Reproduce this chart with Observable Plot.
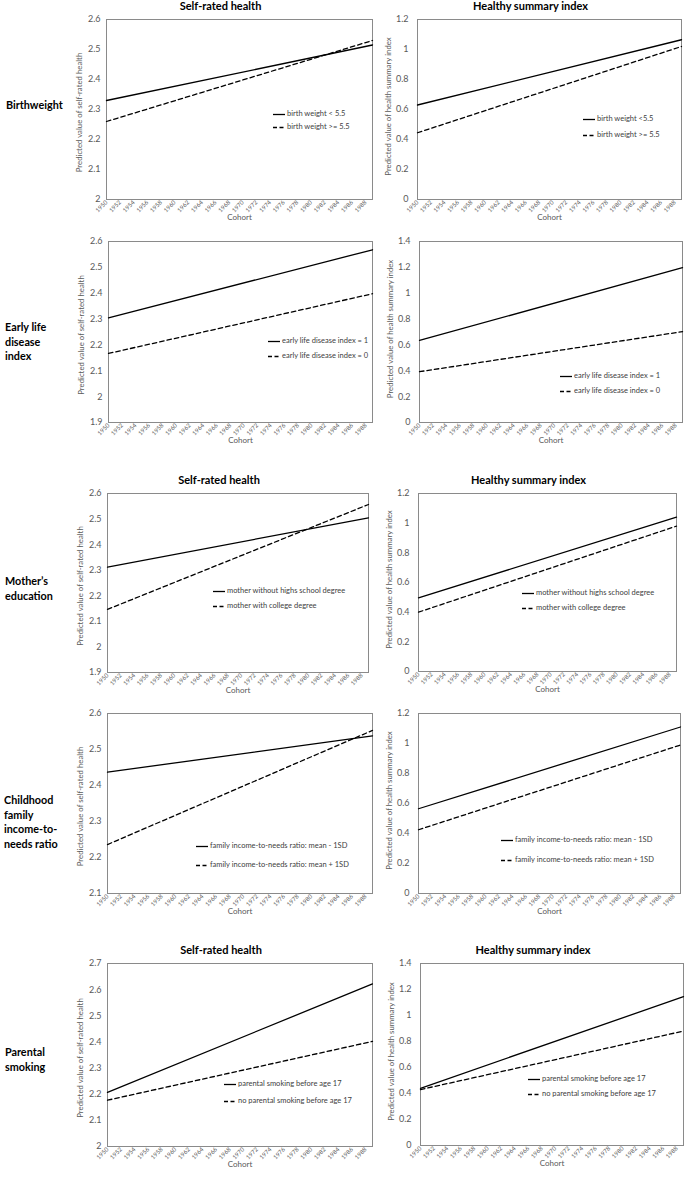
<!DOCTYPE html>
<html><head><meta charset="utf-8">
<script src="https://cdn.jsdelivr.net/npm/d3@7"></script>
<script src="https://cdn.jsdelivr.net/npm/@observablehq/plot@0.6"></script>
<style>
body{margin:0;background:#fff;}
#root{position:relative;width:685px;height:1180px;overflow:hidden;font-family:Lato,sans-serif;}
.plot{position:absolute;}
.rowlab{position:absolute;font-weight:bold;font-size:10.8px;line-height:14.5px;color:#000;font-family:Lato,sans-serif;}
.leg{position:absolute;font-size:7.5px;color:#404040;white-space:nowrap;font-family:Lato,sans-serif;line-height:10px;}
.leg svg{position:absolute;left:0;top:4px;}
.leg span{position:absolute;left:14px;top:0;}
</style></head><body><div id="root"></div>
<script>
// ---- data ----
const cohortEnds = [1950, 1989];
const xTicks = [1950,1952,1954,1956,1958,1960,1962,1964,1966,1968,1970,1972,1974,1976,1978,1980,1982,1984,1986,1988];

const rowLabels = ["Birthweight", "Early life\ndisease\nindex", "Mother’s\neducation", "Childhood\nfamily\nincome-to-\nneeds ratio", "Parental\nsmoking"];
const colTitles = ["Self-rated health", "Healthy summary index"];
const yLabels = ["Predicted value of self-rated health", "Predicted value of health summary index"];

// self-rated health panels
const bwSrhLow = [2.33, 2.515], bwSrhHigh = [2.26, 2.53];
const eldSrh1 = [2.305, 2.568], eldSrh0 = [2.167, 2.398];
const meSrhNoHs = [2.312, 2.505], meSrhCollege = [2.147, 2.557];
const incSrhLow = [2.437, 2.538], incSrhHigh = [2.236, 2.553];
const smkSrhYes = [2.207, 2.622], smkSrhNo = [2.177, 2.402];
// healthy summary index panels
const bwHsiLow = [0.63, 1.065], bwHsiHigh = [0.445, 1.02];
const eldHsi1 = [0.635, 1.197], eldHsi0 = [0.393, 0.703];
const meHsiNoHs = [0.497, 1.04], meHsiCollege = [0.40, 0.98];
const incHsiLow = [0.565, 1.11], incHsiHigh = [0.425, 0.99];
const smkHsiYes = [0.44, 1.145], smkHsiNo = [0.43, 0.88];

// y tick labels
const ticksSrhA = [2, 2.1, 2.2, 2.3, 2.4, 2.5, 2.6];
const ticksSrhB = [1.9, 2, 2.1, 2.2, 2.3, 2.4, 2.5, 2.6];
const ticksSrhC = [2.1, 2.2, 2.3, 2.4, 2.5, 2.6];
const ticksSrhD = [2, 2.1, 2.2, 2.3, 2.4, 2.5, 2.6, 2.7];
const ticksHsiA = [0, 0.2, 0.4, 0.6, 0.8, 1, 1.2];
const ticksHsiB = [0, 0.2, 0.4, 0.6, 0.8, 1, 1.2, 1.4];

// legend labels
const legBwSrh = ["birth weight < 5.5", "birth weight >= 5.5"];
const legBwHsi = ["birth weight <5.5", "birth weight >= 5.5"];
const legEld = ["early life disease index = 1", "early life disease index = 0"];
const legMe = ["mother without highs school degree", "mother with college degree"];
const legInc = ["family income-to-needs ratio: mean - 1SD", "family income-to-needs ratio: mean + 1SD"];
const legSmk = ["parental smoking before age 17", "no parental smoking before age 17"];

// ---- layout (positions only) ----
const panels = [
  {row:0,col:0,f:[106,372,19,199], yd:[2,2.6], yt:ticksSrhA, s:[bwSrhLow,bwSrhHigh], leg:legBwSrh, lp:[273,114,127]},
  {row:0,col:1,f:[417,681,19,199], yd:[0,1.2], yt:ticksHsiA, s:[bwHsiLow,bwHsiHigh], leg:legBwHsi, lp:[583,119,135]},
  {row:1,col:0,f:[108,372,241,422], yd:[1.9,2.6], yt:ticksSrhB, s:[eldSrh1,eldSrh0], leg:legEld, lp:[268,341,356]},
  {row:1,col:1,f:[419,682,241,422], yd:[0,1.4], yt:ticksHsiB, s:[eldHsi1,eldHsi0], leg:legEld, lp:[560,376,391]},
  {row:2,col:0,f:[107,368,493,672], yd:[1.9,2.6], yt:ticksSrhB, s:[meSrhNoHs,meSrhCollege], leg:legMe, lp:[213,591,606]},
  {row:2,col:1,f:[418,676,493,671], yd:[0,1.2], yt:ticksHsiA, s:[meHsiNoHs,meHsiCollege], leg:legMe, lp:[522,593,608]},
  {row:3,col:0,f:[107,372,713,893], yd:[2.1,2.6], yt:ticksSrhC, s:[incSrhLow,incSrhHigh], leg:legInc, lp:[196,846,865]},
  {row:3,col:1,f:[418,680,713,893], yd:[0,1.2], yt:ticksHsiA, s:[incHsiLow,incHsiHigh], leg:legInc, lp:[501,840,860]},
  {row:4,col:0,f:[107,372,963,1146], yd:[2,2.7], yt:ticksSrhD, s:[smkSrhYes,smkSrhNo], leg:legSmk, lp:[224,1084,1101]},
  {row:4,col:1,f:[420,683,963,1145], yd:[0,1.4], yt:ticksHsiB, s:[smkHsiYes,smkHsiNo], leg:legSmk, lp:[528,1079,1094]}
];
const titledRows = [0, 2, 4];
const rowLabPos = [[6,98],[5,320],[5,574],[4,793],[5,1045]];

const root = document.getElementById("root");
const fmt = d => String(+(+d).toFixed(1));

for (const p of panels) {
  const [x0,x1,y0,y1] = p.f;
  const hasTitle = titledRows.includes(p.row);
  const mL = 46, mR = 4, mT = hasTitle ? 20 : 4, mB = 28;
  const solid = cohortEnds.map((c,i)=>({cohort:c, v:p.s[0][i]}));
  const dashed = cohortEnds.map((c,i)=>({cohort:c, v:p.s[1][i]}));
  const marks = [
    Plot.frame({stroke:"#8a8a8a", strokeWidth:1}),
    Plot.axisY({ticks:p.yt, tickSize:0, tickPadding:p.col===0?6:9, tickFormat:fmt, fontSize:9, fill:"#595959", label:null}),
    Plot.axisX({ticks:xTicks, tickSize:0, tickRotate:-45, tickPadding:2, tickFormat:d=>String(d), fontSize:6, fill:"#595959", label:null}),
    Plot.line(solid, {x:"cohort", y:"v", stroke:"#000", strokeWidth:1.3}),
    Plot.line(dashed, {x:"cohort", y:"v", stroke:"#000", strokeWidth:1.3, strokeDasharray:"4.5,3"}),
    Plot.text([yLabels[p.col]], {text:d=>d, frameAnchor:"left", rotate:-90, dx:p.col===0?-27:-29, dy:p.col===0?3:-3, textAnchor:"middle", lineAnchor:"middle", fontSize:7.8, fill:"#595959"}),
    Plot.text(["Cohort"], {text:d=>d, frameAnchor:"bottom", dy:18, textAnchor:"middle", lineAnchor:"middle", fontSize:8, fill:"#595959"})
  ];
  if (hasTitle) marks.push(Plot.text([colTitles[p.col]], {text:d=>d, frameAnchor:"top", dx:-19, dy:-13, textAnchor:"middle", lineAnchor:"middle", fontSize:11, fontWeight:"bold", fill:"#000"}));
  const svg = Plot.plot({
    width: x1-x0+mL+mR, height: y1-y0+mT+mB,
    marginLeft:mL, marginRight:mR, marginTop:mT, marginBottom:mB,
    style:{fontFamily:"Lato, sans-serif", background:"transparent", overflow:"visible"},
    x:{domain:[1950,1989]}, y:{domain:p.yd},
    marks
  });
  svg.classList.add("plot");
  svg.style.left = (x0-mL)+"px";
  svg.style.top = (y0-mT)+"px";
  root.appendChild(svg);
}

// row labels
rowLabels.forEach((t,i)=>{
  const d = document.createElement("div");
  d.className = "rowlab";
  d.style.left = rowLabPos[i][0]+"px";
  d.style.top = rowLabPos[i][1]+"px";
  d.innerHTML = t.split("\n").join("<br>");
  root.appendChild(d);
});

// legends
for (const p of panels) {
  const [lx, ya, yb] = p.lp;
  [ya, yb].forEach((yy, k)=>{
    const d = document.createElement("div");
    d.className = "leg";
    d.style.left = lx+"px";
    d.style.top = (yy-5)+"px";
    d.innerHTML = `<svg width="13" height="3"><line x1="0" x2="12" y1="1.5" y2="1.5" stroke="#000" stroke-width="1.3" ${k?'stroke-dasharray="4,2.5"':''}/></svg><span>${p.leg[k]}</span>`;
    root.appendChild(d);
  });
}
</script></body></html>
